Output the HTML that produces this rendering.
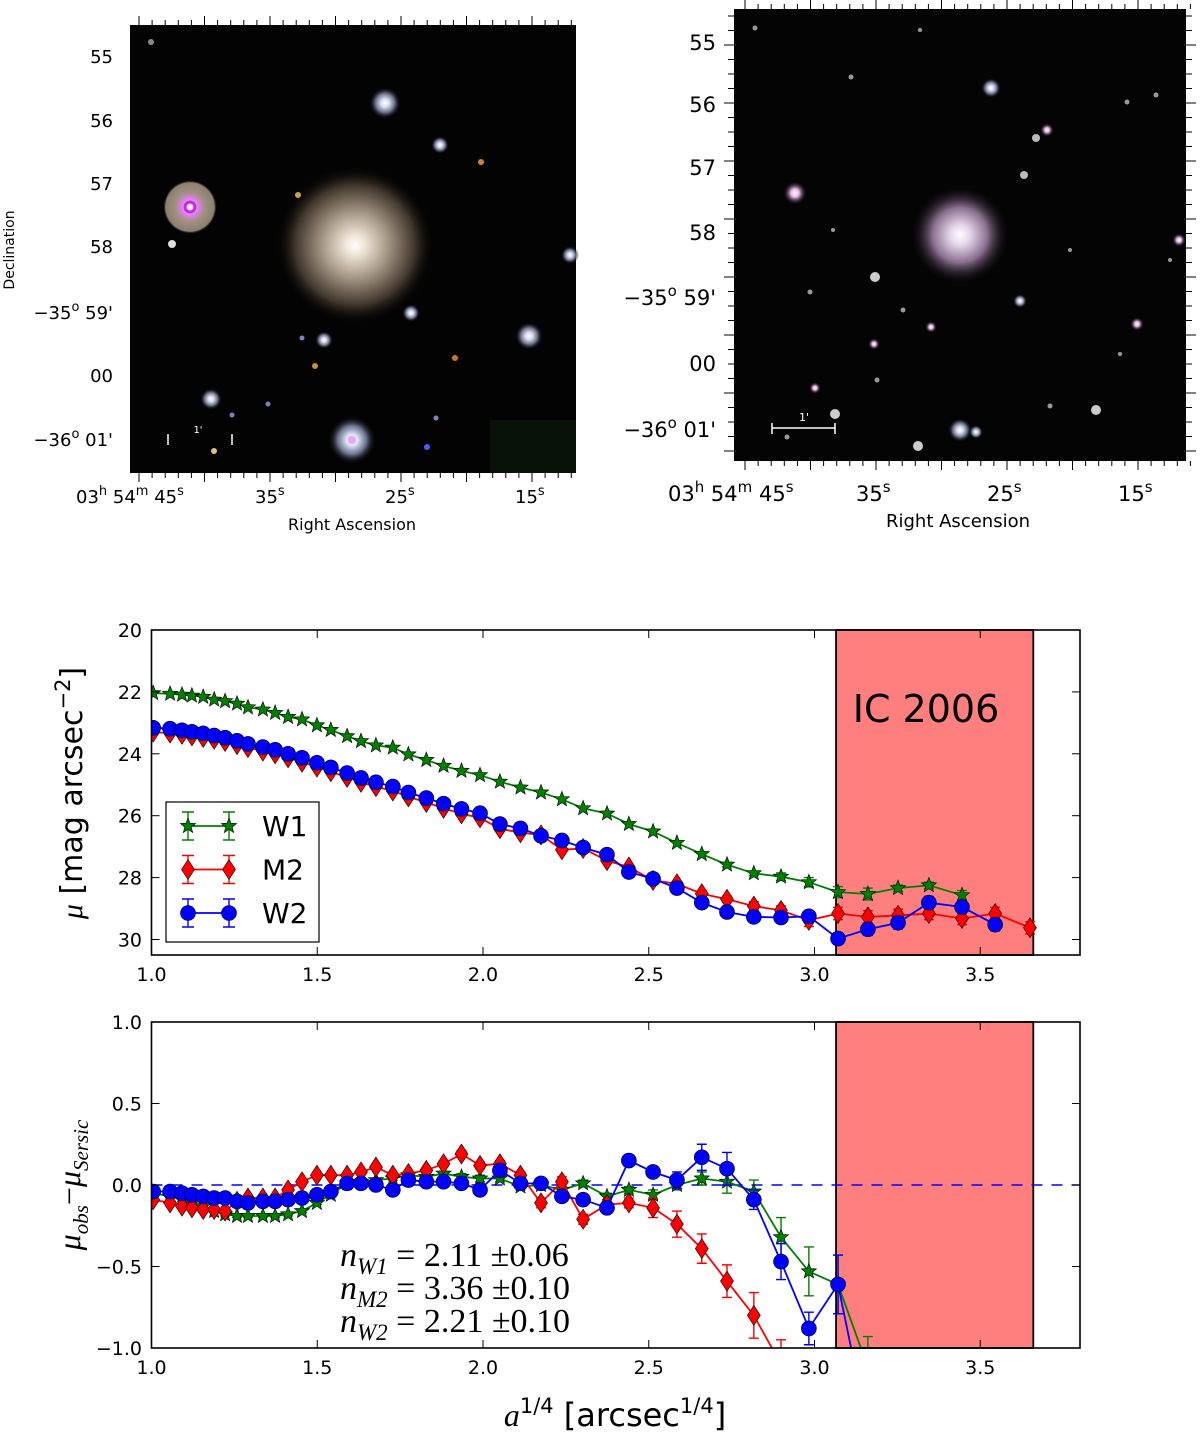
<!DOCTYPE html>
<html><head><meta charset="utf-8"><style>
html,body{margin:0;padding:0;background:#fff;width:1200px;height:1440px;overflow:hidden;}
svg{display:block;font-family:"DejaVu Sans","Liberation Sans",sans-serif;}
</style></head><body>
<svg id="fig" width="1200" height="1440" viewBox="0 0 1200 1440" xmlns="http://www.w3.org/2000/svg">
<defs>
<radialGradient id="galL"><stop offset="0" stop-color="#fff"/><stop offset="0.12" stop-color="#efe6d8"/><stop offset="0.4" stop-color="#a89a88"/><stop offset="0.75" stop-color="#40362c"/><stop offset="1" stop-color="#000" stop-opacity="0"/></radialGradient>
<radialGradient id="galR"><stop offset="0" stop-color="#fff"/><stop offset="0.2" stop-color="#e6d6ea"/><stop offset="0.55" stop-color="#8a7090"/><stop offset="1" stop-color="#000" stop-opacity="0"/></radialGradient>
<radialGradient id="halo"><stop offset="0" stop-color="#fff"/><stop offset="0.25" stop-color="#d8e0f0"/><stop offset="0.6" stop-color="#6a708a"/><stop offset="1" stop-color="#000" stop-opacity="0"/></radialGradient>
<radialGradient id="haloP"><stop offset="0" stop-color="#fff"/><stop offset="0.3" stop-color="#e080f0"/><stop offset="0.55" stop-color="#a09080"/><stop offset="0.9" stop-color="#8a8070"/><stop offset="1" stop-color="#000" stop-opacity="0"/></radialGradient>
<radialGradient id="pinkS"><stop offset="0" stop-color="#fff"/><stop offset="0.35" stop-color="#e8b0e8"/><stop offset="1" stop-color="#000" stop-opacity="0"/></radialGradient>
<clipPath id="clipTop"><rect x="151.5" y="630" width="928.5" height="325"/></clipPath>
<clipPath id="clipBot"><rect x="151.5" y="1022" width="928.5" height="326"/></clipPath>
</defs>

<!-- Left image -->
<g>
<rect x="130" y="25" width="446" height="448" fill="#030303"/>
<circle cx="355" cy="245" r="80" fill="url(#galL)"/>
<circle cx="190" cy="207" r="27" fill="url(#haloP)"/>
<circle cx="190" cy="207" r="5" fill="none" stroke="#c030e0" stroke-width="3"/>
<circle cx="385" cy="103" r="16" fill="url(#halo)"/>
<circle cx="352" cy="440" r="24" fill="url(#halo)"/>
<circle cx="352" cy="440" r="4" fill="#f0a0ff"/>
<circle cx="440" cy="145" r="9" fill="url(#halo)"/>
<circle cx="411" cy="313" r="9" fill="url(#halo)"/>
<circle cx="529" cy="336" r="14" fill="url(#halo)"/>
<circle cx="570" cy="255" r="9" fill="url(#halo)"/>
<circle cx="324" cy="340" r="9" fill="url(#halo)"/>
<circle cx="211" cy="399" r="11" fill="url(#halo)"/>
<circle cx="172" cy="244" r="4" fill="#ddd"/>
<circle cx="151" cy="42" r="3" fill="#888"/>
<circle cx="298" cy="195" r="3" fill="#d0a040"/>
<circle cx="481" cy="162" r="3" fill="#d08040"/>
<circle cx="455" cy="358" r="3" fill="#d07030"/>
<circle cx="315" cy="366" r="3" fill="#c09040"/>
<circle cx="214" cy="451" r="3" fill="#e0c080"/>
<circle cx="427" cy="447" r="3" fill="#4060ff"/>
<circle cx="268" cy="404" r="2.5" fill="#8080c0"/>
<circle cx="232" cy="415" r="2.5" fill="#8080c0"/>
<circle cx="436" cy="418" r="2.5" fill="#8080c0"/>
<circle cx="302" cy="338" r="2.5" fill="#8080c0"/>
<rect x="490" y="420" width="86" height="53" fill="#0c1a0c" opacity="0.7"/>
<g stroke="#fff" stroke-width="1.5"><line x1="168" y1="434" x2="168" y2="445"/><line x1="232" y1="434" x2="232" y2="445"/></g>
<text x="198" y="433" font-size="10" fill="#fff" text-anchor="middle">1'</text>
</g>
<g id="lticks" stroke="#000" stroke-width="1"></g>
<g font-size="18" text-anchor="end" fill="#000">
<text x="113" y="63">55</text><text x="113" y="127">56</text><text x="113" y="190">57</text><text x="113" y="253">58</text>
<text x="113" y="319">−35<tspan dy="-8" font-size="13">o</tspan><tspan dy="8"> 59'</tspan></text>
<text x="113" y="382">00</text>
<text x="113" y="446">−36<tspan dy="-8" font-size="13">o</tspan><tspan dy="8"> 01'</tspan></text>
</g>
<text x="14" y="250" font-size="14" text-anchor="middle" transform="rotate(-90 14 250)">Declination</text>
<g font-size="18" fill="#000">
<text x="76" y="503">03<tspan dy="-8" font-size="13">h</tspan><tspan dy="8"> 54</tspan><tspan dy="-8" font-size="13">m</tspan><tspan dy="8"> 45</tspan><tspan dy="-8" font-size="13">s</tspan></text>
<text x="255" y="503">35<tspan dy="-8" font-size="13">s</tspan></text>
<text x="385" y="503">25<tspan dy="-8" font-size="13">s</tspan></text>
<text x="515" y="503">15<tspan dy="-8" font-size="13">s</tspan></text>
</g>
<text x="352" y="530" font-size="16" text-anchor="middle">Right Ascension</text>

<!-- Right image -->
<g>
<rect x="734" y="9" width="452" height="452" fill="#040404"/>
<circle cx="960" cy="235" r="50" fill="url(#galR)"/>
<circle cx="795" cy="193" r="12" fill="url(#pinkS)"/>
<circle cx="991" cy="88" r="10" fill="url(#halo)"/>
<circle cx="1047" cy="130" r="7" fill="url(#pinkS)"/>
<circle cx="1179" cy="240" r="7" fill="url(#pinkS)"/>
<circle cx="1020" cy="301" r="7" fill="url(#halo)"/>
<circle cx="931" cy="327" r="6" fill="url(#pinkS)"/>
<circle cx="1137" cy="324" r="7" fill="url(#pinkS)"/>
<circle cx="960" cy="430" r="12" fill="url(#halo)"/>
<circle cx="976" cy="432" r="7" fill="url(#halo)"/>
<circle cx="815" cy="388" r="6" fill="url(#pinkS)"/>
<circle cx="874" cy="344" r="6" fill="url(#pinkS)"/>
<circle cx="835" cy="414" r="5" fill="#ccc"/>
<circle cx="918" cy="446" r="5" fill="#ccc"/>
<circle cx="1096" cy="410" r="5" fill="#ccc"/>
<circle cx="875" cy="277" r="5" fill="#ccc"/>
<circle cx="1036" cy="138" r="4" fill="#bbb"/>
<circle cx="1024" cy="175" r="4" fill="#bbb"/>
<g fill="#999">
<circle cx="755" cy="28" r="2.5"/><circle cx="851" cy="77" r="2.5"/><circle cx="810" cy="292" r="2.5"/><circle cx="903" cy="310" r="2.5"/><circle cx="1050" cy="406" r="2.5"/><circle cx="1127" cy="102" r="2.5"/><circle cx="877" cy="380" r="2.5"/><circle cx="1156" cy="95" r="2.5"/><circle cx="787" cy="437" r="2.5"/><circle cx="833" cy="230" r="2"/><circle cx="1120" cy="354" r="2"/><circle cx="1070" cy="250" r="2"/><circle cx="920" cy="30" r="2"/><circle cx="1170" cy="260" r="2"/>
</g>
<g stroke="#fff" stroke-width="1.5"><line x1="772" y1="428" x2="835" y2="428"/><line x1="772" y1="423" x2="772" y2="434"/><line x1="835" y1="423" x2="835" y2="434"/></g>
<text x="804" y="421" font-size="11" fill="#fff" text-anchor="middle">1'</text>
</g>
<g id="rticks" stroke="#000" stroke-width="1"></g>
<g font-size="21" text-anchor="end" fill="#000">
<text x="716" y="50">55</text><text x="716" y="112">56</text><text x="716" y="175">57</text><text x="716" y="240">58</text>
<text x="716" y="305">−35<tspan dy="-9" font-size="15">o</tspan><tspan dy="9"> 59'</tspan></text>
<text x="716" y="371">00</text>
<text x="716" y="437">−36<tspan dy="-9" font-size="15">o</tspan><tspan dy="9"> 01'</tspan></text>
</g>
<g font-size="21" fill="#000">
<text x="668" y="501">03<tspan dy="-9" font-size="15">h</tspan><tspan dy="9"> 54</tspan><tspan dy="-9" font-size="15">m</tspan><tspan dy="9"> 45</tspan><tspan dy="-9" font-size="15">s</tspan></text>
<text x="856" y="501">35<tspan dy="-9" font-size="15">s</tspan></text>
<text x="987" y="501">25<tspan dy="-9" font-size="15">s</tspan></text>
<text x="1118" y="501">15<tspan dy="-9" font-size="15">s</tspan></text>
</g>
<text x="958" y="527" font-size="18" text-anchor="middle">Right Ascension</text>

<!-- Chart panels -->
<g id="top"></g>
<g id="bot"></g>
</svg>
<script>
// ---- data ----
const xVals = [1.005,1.056,1.092,1.122,1.156,1.189,1.222,1.258,1.291,1.336,1.373,1.412,1.454,1.499,1.541,1.590,1.632,1.677,1.728,1.775,1.829,1.881,1.935,1.991,2.051,2.113,2.175,2.238,2.302,2.374,2.440,2.513,2.585,2.660,2.736,2.817,2.899,2.983,3.071,3.161,3.252,3.345,3.445,3.545,3.650];
const muW1 = [22.04,22.06,22.09,22.12,22.16,22.25,22.30,22.38,22.50,22.57,22.68,22.81,22.89,23.08,23.23,23.43,23.59,23.73,23.80,24.02,24.20,24.39,24.55,24.69,24.90,25.09,25.25,25.47,25.76,25.93,26.27,26.51,26.88,27.24,27.58,27.86,27.97,28.15,28.47,28.53,28.34,28.25,28.57];
const muM2 = [23.30,23.33,23.37,23.42,23.47,23.53,23.60,23.70,23.80,23.91,24.00,24.13,24.27,24.43,24.58,24.76,24.92,25.06,25.20,25.39,25.57,25.76,25.94,26.07,26.42,26.55,26.62,27.10,27.06,27.45,27.66,28.09,28.20,28.52,28.70,28.92,29.06,29.38,29.16,29.27,29.22,29.16,29.32,29.16,29.62];
const muW2 = [23.16,23.19,23.24,23.29,23.34,23.41,23.48,23.58,23.68,23.78,23.87,24.00,24.13,24.29,24.44,24.62,24.78,24.92,25.06,25.25,25.43,25.61,25.78,25.92,26.27,26.41,26.65,26.80,27.03,27.26,27.82,28.04,28.34,28.81,29.11,29.27,29.29,29.25,29.97,29.67,29.46,28.81,28.95,29.52];
const resW1 = [-0.05,-0.07,-0.09,-0.11,-0.13,-0.16,-0.18,-0.19,-0.19,-0.19,-0.19,-0.18,-0.16,-0.11,-0.06,0.01,0.02,0.03,0.04,0.06,0.05,0.07,0.05,0.04,0.04,-0.01,0.00,-0.03,0.01,-0.07,-0.03,-0.06,0.00,0.04,0.02,-0.04,-0.32,-0.53,-0.61,-1.12,-1.6,-1.9,-2.2];
const resM2 = [-0.09,-0.11,-0.13,-0.14,-0.15,-0.15,-0.16,-0.10,-0.08,-0.08,-0.08,-0.03,0.02,0.06,0.06,0.06,0.08,0.11,0.06,0.07,0.09,0.13,0.19,0.12,0.13,0.06,-0.11,0.02,-0.21,-0.12,-0.11,-0.14,-0.24,-0.39,-0.59,-0.80,-1.10,-1.4,-1.6,-1.8,-2.0,-2.1,-2.2,-2.3,-2.5];
const resW2 = [-0.04,-0.04,-0.05,-0.06,-0.07,-0.08,-0.08,-0.10,-0.11,-0.10,-0.10,-0.09,-0.08,-0.06,-0.04,0.01,0.01,0.00,-0.03,0.03,0.02,0.02,0.01,-0.03,0.09,0.01,0.01,-0.07,-0.09,-0.14,0.15,0.08,0.03,0.17,0.10,-0.09,-0.47,-0.88,-0.61,-1.5,-1.8,-2.0,-2.1,-2.3];
const errW1 = [0.01,0.01,0.01,0.01,0.01,0.01,0.01,0.01,0.01,0.01,0.01,0.01,0.01,0.01,0.01,0.01,0.01,0.01,0.01,0.01,0.01,0.01,0.02,0.02,0.02,0.02,0.02,0.02,0.02,0.02,0.02,0.03,0.03,0.04,0.07,0.07,0.12,0.15,0.18,0.19,0.1,0.1,0.15];
const errM2 = [0.01,0.01,0.01,0.01,0.01,0.01,0.01,0.01,0.01,0.01,0.01,0.01,0.01,0.01,0.01,0.01,0.01,0.01,0.01,0.01,0.01,0.01,0.02,0.02,0.02,0.02,0.03,0.03,0.03,0.03,0.03,0.06,0.08,0.09,0.1,0.14,0.15,0.2,0.2,0.2,0.2,0.2,0.2,0.2,0.2];
const errW2 = [0.01,0.01,0.01,0.01,0.01,0.01,0.01,0.01,0.01,0.01,0.01,0.01,0.01,0.01,0.01,0.01,0.01,0.01,0.01,0.01,0.01,0.01,0.02,0.02,0.02,0.02,0.02,0.02,0.02,0.02,0.02,0.03,0.05,0.08,0.1,0.06,0.11,0.1,0.18,0.2,0.2,0.2,0.2,0.2];
const xTicks = [1.0,1.5,2.0,2.5,3.0,3.5];
const xTickLabels = ["1.0","1.5","2.0","2.5","3.0","3.5"];
const topTicks = [20,22,24,26,28,30];
const botTicks = [1.0,0.5,0.0,-0.5,-1.0];
const botTickLabels = ["1.0","0.5","0.0","\u22120.5","\u22121.0"];
const shadeRange = [3.065,3.66];
const seriesNames = ["W1","M2","W2"];

const NS = "http://www.w3.org/2000/svg";
function mk(tag, attrs, parent){ const e=document.createElementNS(NS,tag); for(const k in attrs) e.setAttribute(k,attrs[k]); parent.appendChild(e); return e; }

// image ticks
(function(){
  const lt=document.getElementById('lticks');
  for(let i=0;i<34;i++){ const x=139+i*13.1; const L=(i%5===0)?9:5;
    mk('line',{x1:x,y1:25,x2:x,y2:25-L},lt); mk('line',{x1:x,y1:473,x2:x,y2:473+L},lt); }
  const rt=document.getElementById('rticks');
  for(let i=0;i<35;i++){ const x=745+i*13.1; const L=(i%5===0)?9:5;
    mk('line',{x1:x,y1:9,x2:x,y2:9-L},rt); mk('line',{x1:x,y1:461,x2:x,y2:461+L},rt); }
  for(let i=0;i<31;i++){ const y=16+i*14.5; const L=(i%4===2)?10:6;
    mk('line',{x1:734,y1:y,x2:734-L,y2:y},rt); mk('line',{x1:1186,y1:y,x2:1186+L,y2:y},rt); }
})();

const X = v => 151.5 + (v-1)*331.5;
const Ytop = v => 630 + (v-20)*30.95;
const Ybot = v => 1185 - v*163;

const colors = {W1:"#008000", M2:"#ff0000", W2:"#0000ff"};
function marker(kind, cx, cy, parent, name){
  let e;
  if(kind==="W1"){
    let d=""; for(let i=0;i<10;i++){ const r=(i%2===0)?8:3.4; const a=-Math.PI/2+i*Math.PI/5; d+=(i?"L":"M")+(cx+r*Math.cos(a)).toFixed(1)+","+(cy+r*Math.sin(a)).toFixed(1);} d+="Z";
    e=mk('path',{d:d,fill:"#008000",stroke:"#000","stroke-width":0.6},parent);
  } else if(kind==="M2"){
    e=mk('path',{d:`M${cx},${cy-10}L${cx+6.5},${cy}L${cx},${cy+10}L${cx-6.5},${cy}Z`,fill:"#ff0000",stroke:"#000","stroke-width":0.6},parent);
  } else {
    e=mk('circle',{cx:cx,cy:cy,r:7.5,fill:"#0000ff",stroke:"#000","stroke-width":0.6},parent);
  }
  
  
  return e;
}

function drawSeries(g, kind, ys, errs, Y, clip, top, bot){
  const sg=mk('g',{"clip-path":`url(#${clip})`},g);
  
  
  const col=colors[kind];
  const lim=bot+12;
  // build polyline, truncating where it leaves the panel bottom
  let d="";
  for(let i=0;i<ys.length;i++){
    const x=X(xVals[i]), y=Y(ys[i]);
    if(i===0){ d+="M"+x.toFixed(1)+","+Math.min(y,lim).toFixed(1); continue; }
    const px=X(xVals[i-1]), py=Y(ys[i-1]);
    if(py>lim && y>lim) continue;
    if(py>lim){ const t=(lim-py)/(y-py); d+="M"+(px+t*(x-px)).toFixed(1)+","+lim; }
    if(y>lim){ const t=(lim-py)/(y-py); d+="L"+(px+t*(x-px)).toFixed(1)+","+lim; }
    else d+="L"+x.toFixed(1)+","+y.toFixed(1);
  }
  const ln=mk('path',{d:d,fill:"none",stroke:col,"stroke-width":1.8},sg);
  
  
  ys.forEach((v,i)=>{
    const x=X(xVals[i]);
    let y1=Y(v-errs[i]), y2=Y(v+errs[i]);
    const lo=Math.min(y1,y2), hi=Math.max(y1,y2);
    if(lo>lim) return;
    if(hi-lo>3){
      const h2=Math.min(hi,lim);
      let d2=`M${x},${lo}L${x},${h2}M${x-5},${lo}L${x+5},${lo}`;
      if(hi<=lim) d2+=`M${x-5},${hi}L${x+5},${hi}`;
      const eb=mk('path',{d:d2,stroke:col,"stroke-width":1.4,fill:"none"},sg);
      
      
    }
  });
  ys.forEach((v,i)=>{ const y=Y(v); if(y<=lim) marker(kind, X(xVals[i]), y, sg, 'point-'+kind.toLowerCase()); });
}

function frame(g, top, bot){
  const sh=mk('rect',{x:X(shadeRange[0]),y:top,width:X(shadeRange[1])-X(shadeRange[0]),height:bot-top,fill:"#ff7f7f",stroke:"#000","stroke-width":1.8},g);
  
  
}
function axes(g, top, bot, yTicks, yLabels, Y){
  const ax=mk('rect',{x:151.5,y:top,width:928.5,height:bot-top,fill:"none",stroke:"#000","stroke-width":1.6},g);
  
  
  xTicks.forEach((t,i)=>{
    const x=X(t);
    mk('line',{x1:x,y1:bot,x2:x,y2:bot-8,stroke:"#000","stroke-width":1},g);
    mk('line',{x1:x,y1:top,x2:x,y2:top+8,stroke:"#000","stroke-width":1},g);
    const tl=mk('text',{x:x,y:bot+26,"font-size":19,"text-anchor":"middle"},g);
    tl.textContent=xTickLabels[i];
    
    
  });
  yTicks.forEach((t,i)=>{
    const y=Y(t);
    mk('line',{x1:151.5,y1:y,x2:159.5,y2:y,stroke:"#000","stroke-width":1},g);
    mk('line',{x1:1080,y1:y,x2:1072,y2:y,stroke:"#000","stroke-width":1},g);
    const tl=mk('text',{x:142,y:y+7,"font-size":19,"text-anchor":"end"},g);
    tl.textContent=yLabels[i];
    
    
  });
}

// ---- top panel ----
const gt=document.getElementById('top');
frame(gt,630,955);
const ic=mk('text',{x:926,y:722,"font-size":38,"text-anchor":"middle"},gt);
ic.textContent="IC 2006";


drawSeries(gt,"W1",muW1,errW1,Ytop,"clipTop",630,955);
drawSeries(gt,"M2",muM2,errM2,Ytop,"clipTop",630,955);
drawSeries(gt,"W2",muW2,errW2,Ytop,"clipTop",630,955);
axes(gt,630,955,topTicks,topTicks.map(String),Ytop);
// legend
const lg=mk('g',{},gt);


mk('rect',{x:166,y:802,width:153,height:140,fill:"#fff",stroke:"#000","stroke-width":1.2},lg);
seriesNames.forEach((n,i)=>{
  const y=826+i*43.5, col=colors[n];
  const eg=mk('g',{},lg);
  
  
  mk('line',{x1:188,y1:y,x2:229,y2:y,stroke:col,"stroke-width":1.8},eg);
  [188,229].forEach(x=>{ mk('path',{d:`M${x},${y-14}L${x},${y+14}M${x-6},${y-14}L${x+6},${y-14}M${x-6},${y+14}L${x+6},${y+14}`,stroke:col,"stroke-width":1.4,fill:"none"},eg); marker(n,x,y,eg,'legend-marker'); });
  const t=mk('text',{x:262,y:y+10,"font-size":28},eg); t.textContent=n;
});
const yl=mk('text',{x:0,y:0,"font-size":30,"text-anchor":"middle",transform:"translate(82,793) rotate(-90)"},gt);
yl.innerHTML='<tspan font-family="Liberation Serif,serif" font-style="italic">μ</tspan> [mag arcsec<tspan dy="-12" font-size="21">−2</tspan><tspan dy="12">]</tspan>';



// ---- bottom panel ----
const gb=document.getElementById('bot');
frame(gb,1022,1348);
const zl=mk('line',{x1:151.5,y1:Ybot(0),x2:1080,y2:Ybot(0),stroke:"#0000ff","stroke-width":1.6,"stroke-dasharray":"11,9"},gb);


drawSeries(gb,"W1",resW1,errW1,Ybot,"clipBot",1022,1348);
drawSeries(gb,"M2",resM2,errM2,Ybot,"clipBot",1022,1348);
drawSeries(gb,"W2",resW2,errW2,Ybot,"clipBot",1022,1348);
axes(gb,1022,1348,botTicks,botTickLabels,Ybot);
const ann=mk('g',{"font-family":"Liberation Serif,serif","font-size":34},gb);


[["W1","2.11","0.06"],["M2","3.36","0.10"],["W2","2.21","0.10"]].forEach((r,i)=>{
  const t=mk('text',{x:340,y:1266+i*33},ann);
  t.innerHTML=`<tspan font-style="italic">n</tspan><tspan font-style="italic" font-size="23" dy="8">${r[0]}</tspan><tspan dy="-8"> = ${r[1]} ±${r[2]}</tspan>`;
});
const yl2=mk('text',{x:0,y:0,"font-size":32,"text-anchor":"middle","font-family":"Liberation Serif,serif","font-style":"italic",transform:"translate(80,1185) rotate(-90)"},gb);
yl2.innerHTML='μ<tspan font-size="21" dy="8">obs</tspan><tspan dy="-8" font-style="normal">−</tspan>μ<tspan font-size="21" dy="8">Sersic</tspan>';


const xl=mk('text',{x:615,y:1426,"font-size":32,"text-anchor":"middle"},gb);
xl.innerHTML='<tspan font-family="Liberation Serif,serif" font-style="italic">a</tspan><tspan font-size="21" dy="-13">1/4</tspan><tspan dy="13">  [arcsec</tspan><tspan font-size="21" dy="-13">1/4</tspan><tspan dy="13">]</tspan>';


</script>
</body></html>
